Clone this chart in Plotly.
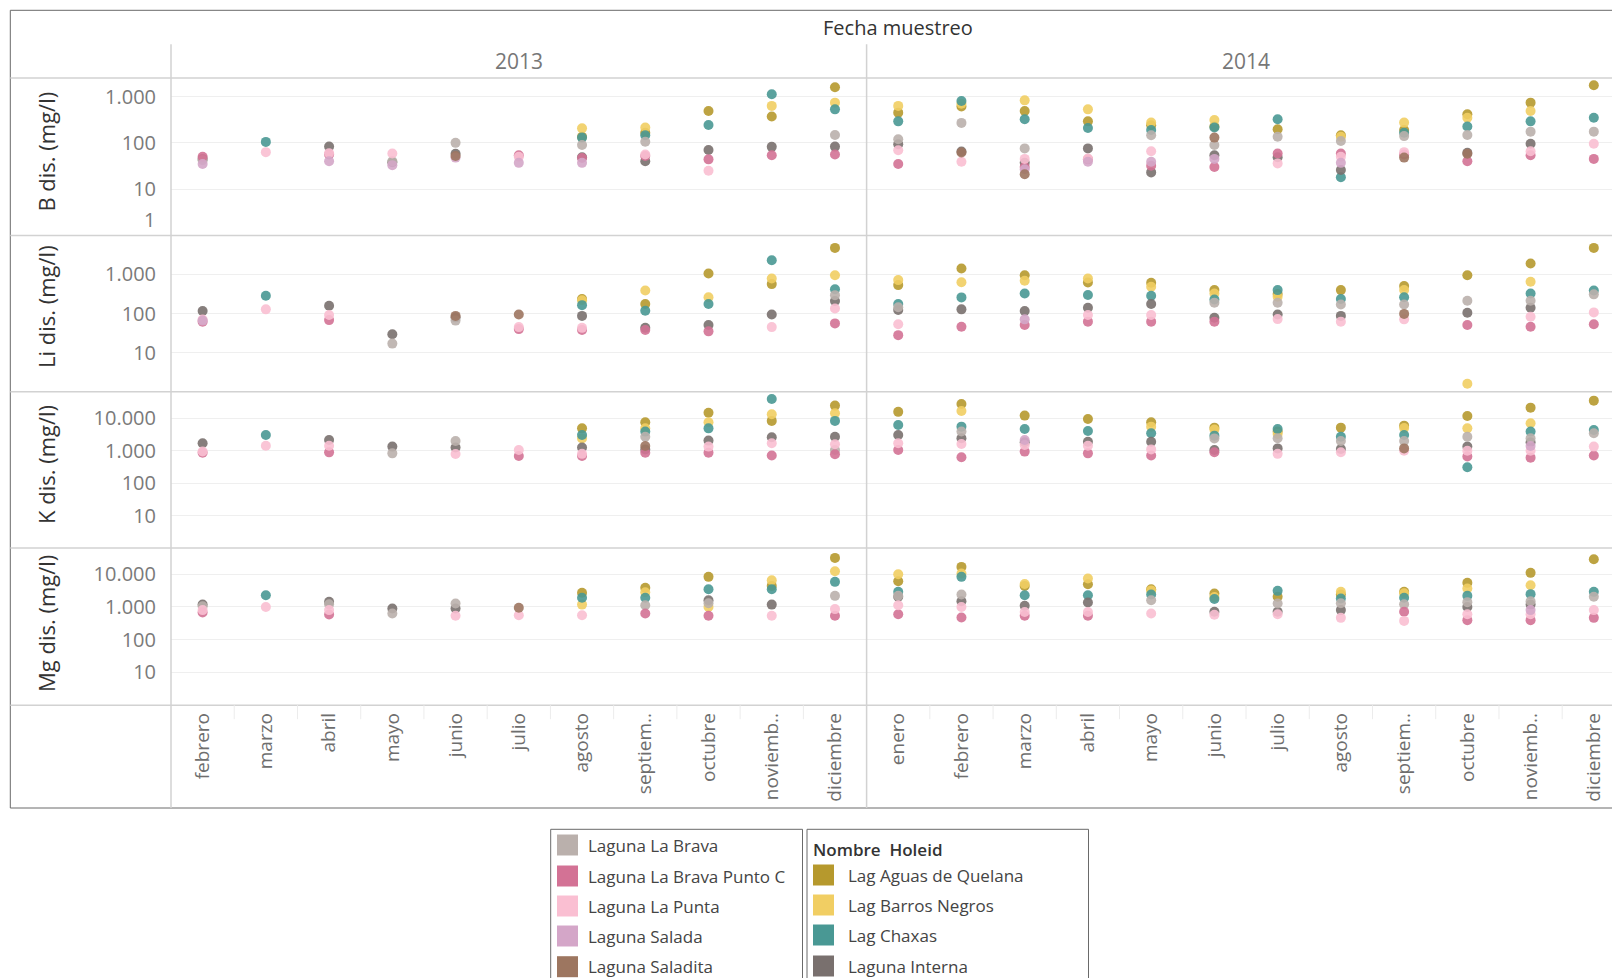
import plotly.graph_objects as go

# ---- categories -------------------------------------------------------------
MONTHS_2013 = ["febrero", "marzo", "abril", "mayo", "junio", "julio", "agosto",
               "septiem..", "octubre", "noviemb..", "diciembre"]
MONTHS_2014 = ["enero", "febrero", "marzo", "abril", "mayo", "junio", "julio",
               "agosto", "septiem..", "octubre", "noviemb..", "diciembre"]
YEARS = ["2013", "2014"]

SERIES = ["Lag Aguas de Quelana", "Lag Barros Negros", "Lag Chaxas", "Laguna Interna",
          "Laguna La Brava", "Laguna La Brava Punto C", "Laguna La Punta",
          "Laguna Salada", "Laguna Saladita"]
COLORS = ["#b6992d", "#f1ce63", "#499894", "#79706e", "#bab0ac",
          "#d37295", "#fabfd2", "#d4a6c8", "#9d7660"]

N = None
# ---- values (mg/l); first 11 = 2013 feb..dic, last 12 = 2014 ene..dic -------
# B dis.
B_AGUAS = [N, N, N, N, N, N, 136, 166, 490, 370, 1590, 450, 610, 490, 292, 240, 225, 197, 146, 190, 415, 740, 1760]
B_BARROS = [N, N, N, N, N, N, 206, 214, N, 630, 740, 630, 700, 830, 530, 274, 313, N, 136, 274, 350, 490, N]
B_CHAXAS = [N, 105, N, N, N, N, 130, 146, 244, 1120, 530, 292, 805, 323, 210, 190, 215, 323, 18, 166, 225, 292, 350]
B_INTERNA = [45, N, 83, 38, 58, N, 49, 40, 70, 82, 83, 93, 65, 37, 76, 23, 54, 49, 26, N, 61, 96, N]
B_BRAVA = [42, N, N, 40, 100, N, 90, 106, N, N, 148, 120, 270, 76, N, 146, 90, 136, 110, 140, 148, 175, 175]
B_PUNTOC = [50, N, 56, N, N, 54, 47, 52, 44, 54, 56, 35, N, 30, 44, 32, 30, 59, 59, 56, 40, 54, 45]
B_PUNTA = [N, 63, 60, 59, N, 50, N, 56, 25, N, N, 69, 39, 45, 46, 66, N, 36, 50, 63, N, 66, 96]
B_SALADA = [35, N, 40, 33, 48, 37, 37, N, N, N, N, N, N, 27, 39, 39, 45, N, 37, N, N, N, N]
B_SALADITA = [N, N, N, N, 52, N, N, N, N, N, N, N, 62, 21, N, N, 130, N, N, 48, 58, N, N]

# Li dis.
LI_AGUAS = [N, N, N, N, N, N, 235, 175, 1060, 567, 4790, 534, 1420, 960, 625, 612, 398, 315, 398, 504, 960, 1910, 4790]
LI_BARROS = [N, N, N, N, N, N, 220, 390, 260, 790, 960, 717, 630, 690, 790, 485, 327, 270, N, 400, 1.6, 650, N]
LI_CHAXAS = [N, 285, N, N, N, N, 164, 118, 175, 2320, 420, 175, 259, 327, 297, 285, 230, 398, 235, 260, N, 327, 390]
LI_INTERNA = [116, N, 158, 29.6, 80, N, 87, 43, 51, 95, 209, 123, 128, 116, 141, 175, 78, 95, 87, N, 105, 141, N]
LI_BRAVA = [N, N, N, 17, 66, N, N, N, N, N, 296, 145, N, N, N, N, 190, 189, 171, 171, 212, 212, 310]
LI_PUNTOC = [62, N, 68, N, N, 40, 38, 38, 35, N, 56, 28, 46, 51, 62, 62, 62, N, N, N, 51, 46, 53]
LI_PUNTA = [70, 128, 92, N, N, 45, 43, N, N, 45, 135, 53, N, N, 92, 92, N, 72, 62, 71, N, 83, 107]
LI_SALADA = [66, N, N, N, N, N, N, N, N, N, N, N, N, 71, N, N, N, N, N, N, N, N, N]
LI_SALADITA = [N, N, N, N, 87, 95, N, N, N, N, N, N, N, N, N, N, N, N, N, 98, N, N, N]

# K dis.
K_AGUAS = [N, N, N, N, N, N, 4900, 7530, 14900, 8300, 24600, 15800, 27700, 12100, 9540, 7530, 5150, 3880, 5150, 5940, 11800, 21300, 35000]
K_BARROS = [N, N, N, N, N, N, 2400, 4900, 7530, 13300, 14300, N, 16800, N, N, 5530, 4500, 3300, N, 5000, 4900, 7000, N]
K_CHAXAS = [N, 3060, N, N, N, N, 3070, 3880, 4900, 39500, 8300, 6230, 5530, 4690, 4070, 3440, 2920, 4690, 2700, 3070, 310, 3880, 4370]
K_INTERNA = [1700, N, 2150, 1340, 1250, N, 1260, 1100, 2050, 2590, 2700, 3070, 2420, 1820, 1900, 1900, 1050, 1180, 1130, N, 1340, 1820, N]
K_BRAVA = [N, N, N, 830, 2000, N, N, 2700, N, N, 1050, N, 3900, N, N, N, 2400, 2420, 2000, 2000, 2700, 2420, 3440]
K_PUNTOC = [870, N, 890, N, N, 690, 690, 870, 870, 710, 775, 1050, 630, 940, 830, 710, 900, N, N, N, 660, 612, 710]
K_PUNTA = [950, 1430, 1430, N, 790, 1050, 800, N, 1340, 1700, 1580, 1700, 1620, 1500, 1430, 1100, N, 800, 900, 1000, 1000, 1000, 1340]
K_SALADA = [N, N, N, N, N, N, N, N, N, N, N, N, N, 2150, N, N, N, N, N, N, N, 1400, N]
K_SALADITA = [N, N, N, N, N, N, N, 1400, N, N, N, N, N, N, N, N, N, N, N, 1180, N, N, N]

# Mg dis.
MG_AGUAS = [N, N, N, N, N, N, 2700, 3830, 8290, 4400, 31500, 6120, 16700, 4400, 4950, 3490, 2570, 2040, 2400, 2890, 5440, 11000, 28700]
MG_BARROS = [N, N, N, N, N, N, 1180, 2800, 1000, 6560, 12350, 10000, 10500, 5000, 7380, 3200, 2000, N, 2890, 2600, 3650, 4620, N]
MG_CHAXAS = [N, 2280, N, N, N, N, 1900, 1900, 3490, 3490, 5830, 2890, 8290, 2280, 2280, 2400, 1750, 3100, 1810, 1900, 2180, 2460, 2890]
MG_INTERNA = [1180, N, 1430, 900, 900, N, N, N, 1610, 1180, N, 2040, 1500, 1080, 1370, N, 710, 710, 800, N, 1000, 1180, N]
MG_BRAVA = [1050, N, 1200, 630, 1270, N, N, 1130, 1300, N, 2180, 2200, 2400, N, N, 1610, N, 1270, 1300, 1200, 1400, 1500, 2040]
MG_PUNTOC = [675, N, 590, N, N, N, N, 630, 540, N, 540, 600, 475, 540, 540, N, N, N, N, 710, 395, 395, 465]
MG_PUNTA = [800, 1000, 800, N, 540, 560, 560, N, N, 540, 860, 1130, 1000, 700, 700, 630, 580, 600, 465, 375, 600, 600, 800]
MG_SALADA = [N, N, N, N, N, N, N, N, N, N, N, N, N, N, N, N, N, N, N, N, N, 800, N]
MG_SALADITA = [N, N, N, N, N, 940, N, N, N, N, N, N, N, N, N, N, N, N, N, N, N, N, N]

ROW_TITLES = ["B dis. (mg/l)", "Li dis. (mg/l)", "K dis. (mg/l)", "Mg dis. (mg/l)"]
ROW_DATA = [
    [B_AGUAS, B_BARROS, B_CHAXAS, B_INTERNA, B_BRAVA, B_PUNTOC, B_PUNTA, B_SALADA, B_SALADITA],
    [LI_AGUAS, LI_BARROS, LI_CHAXAS, LI_INTERNA, LI_BRAVA, LI_PUNTOC, LI_PUNTA, LI_SALADA, LI_SALADITA],
    [K_AGUAS, K_BARROS, K_CHAXAS, K_INTERNA, K_BRAVA, K_PUNTOC, K_PUNTA, K_SALADA, K_SALADITA],
    [MG_AGUAS, MG_BARROS, MG_CHAXAS, MG_INTERNA, MG_BRAVA, MG_PUNTOC, MG_PUNTA, MG_SALADA, MG_SALADITA],
]
ROW_TICKS = [[10, 100, 1000], [10, 100, 1000], [10, 100, 1000, 10000], [10, 100, 1000, 10000]]
ROW_LOG_RANGE = [[0, 3.4], [0, 4.0], [0, 4.82], [0, 4.8]]

# ---- page geometry (pixels) -------------------------------------------------
W, H = 1612, 978
FONT = "Open Sans"
LEFT_EDGE = 10.3          # outer frame
PANE_LEFT = 171.0         # start of 2013 pane
YEAR_SPLIT = 866.6        # 2013 | 2014 divider
COL_W = (YEAR_SPLIT - PANE_LEFT) / len(MONTHS_2013)
ROW_EDGES = [78.1, 235.4, 391.7, 548.0, 705.2]
FRAME_TOP, FRAME_BOTTOM = 10.3, 808.0
HEADER_TOP = 44.2

def px(x):
    return x / W

def py(y):
    return 1 - y / H

def thousands(v):
    return f"{v:,}".replace(",", ".")

def label(text, x, y, size, color, xanchor="center", **extra):
    font = dict(family=FONT, size=size, color=color)
    font.update(extra.pop("font_extra", {}))
    return dict(text=text, x=px(x), y=py(y), xref="paper", yref="paper",
                xanchor=xanchor, yanchor="middle", showarrow=False, font=font, **extra)

fig = go.Figure()
layout = {}
months_by_year = [MONTHS_2013, MONTHS_2014]
offsets = [0, len(MONTHS_2013)]
x_domains = [[px(PANE_LEFT), px(YEAR_SPLIT)], [px(YEAR_SPLIT), 1.0]]
x_ranges = [[-0.5, len(MONTHS_2013) - 0.5],
            [-0.5, -0.5 + (W - YEAR_SPLIT) / COL_W]]

for r in range(4):
    for c in range(2):
        k = r * 2 + c + 1
        xa = "xaxis" if k == 1 else f"xaxis{k}"
        ya = "yaxis" if k == 1 else f"yaxis{k}"
        months = months_by_year[c]
        layout[xa] = dict(
            domain=x_domains[c], range=x_ranges[c], anchor=f"y{k if k > 1 else ''}",
            showgrid=False, zeroline=False, showline=False,
            tickvals=list(range(len(months))), ticktext=months,
            showticklabels=(r == 3), tickangle=-90, ticks="",
            ticklabelstandoff=3,
            tickfont=dict(family=FONT, size=19, color="#6e6e6e"),
        )
        layout[ya] = dict(
            domain=[py(ROW_EDGES[r + 1]), py(ROW_EDGES[r])], anchor=f"x{k if k > 1 else ''}",
            type="log", range=ROW_LOG_RANGE[r],
            showgrid=True, gridcolor="#efefef", gridwidth=1,
            zeroline=False, showline=False, ticks="",
            tickvals=ROW_TICKS[r], ticktext=[thousands(v) for v in ROW_TICKS[r]],
            showticklabels=(c == 0), ticklabelstandoff=14,
            tickfont=dict(family=FONT, size=20, color="#7a7a7a"),
        )
        for s, (name, color) in enumerate(zip(SERIES, COLORS)):
            vals = ROW_DATA[r][s][offsets[c]:offsets[c] + len(months)]
            xs = [i for i, v in enumerate(vals) if v is not None]
            ys = [v for v in vals if v is not None]
            if not xs:
                continue
            fig.add_trace(go.Scatter(
                x=xs, y=ys, mode="markers", name=name, showlegend=False,
                xaxis=f"x{k if k > 1 else ''}", yaxis=f"y{k if k > 1 else ''}",
                marker=dict(size=10, color=color, opacity=0.9, line=dict(width=0)),
                hovertemplate=f"{name}<br>%{{y}}<extra></extra>",
            ))

shapes = []
annotations = []
LINE = "#d2d2d2"

# outer frame
shapes.append(dict(type="rect", xref="paper", yref="paper",
                   x0=px(LEFT_EDGE), x1=px(W + 20), y0=py(FRAME_BOTTOM), y1=py(FRAME_TOP),
                   line=dict(color="#6a6a6a", width=1), layer="above"))
# horizontal pane separators
for y in ROW_EDGES:
    shapes.append(dict(type="line", xref="paper", yref="paper",
                       x0=px(LEFT_EDGE), x1=px(W + 20), y0=py(y), y1=py(y),
                       line=dict(color=LINE, width=1.5), layer="above"))
# vertical separators
for x in (PANE_LEFT, YEAR_SPLIT):
    shapes.append(dict(type="line", xref="paper", yref="paper",
                       x0=px(x), x1=px(x), y0=py(FRAME_BOTTOM), y1=py(HEADER_TOP),
                       line=dict(color=LINE, width=1.5), layer="above"))
# short dividers between month labels
for c in range(2):
    start = PANE_LEFT if c == 0 else YEAR_SPLIT
    for i in range(1, len(months_by_year[c]) + 1):
        x = start + i * COL_W
        if x >= W or abs(x - YEAR_SPLIT) < 1:
            continue
        shapes.append(dict(type="line", xref="paper", yref="paper",
                           x0=px(x), x1=px(x), y0=py(ROW_EDGES[-1]), y1=py(ROW_EDGES[-1] + 14),
                           line=dict(color="#ececec", width=1)))

# header texts
annotations.append(label("Fecha muestreo", (PANE_LEFT + W + 13) / 2, 28, 20, "#333333",
                         font_extra=dict(weight=500)))
year_centers = [(PANE_LEFT + YEAR_SPLIT) / 2, YEAR_SPLIT + 12 * COL_W / 2]
for yr, xc in zip(YEARS, year_centers):
    annotations.append(label(yr, xc, 61.5, 21, "#777777"))
# row titles
for title, yc in zip(ROW_TITLES, [151.6, 307, 465, 624]):
    annotations.append(label(title, 46, yc, 22, "#333333", textangle=-90,
                             font_extra=dict(weight=500)))
# lowest tick of the B axis sits just inside the pane
annotations.append(label("1", 157, 219, 20, "#7a7a7a", xanchor="right"))

# legend boxes
LEG_TOP = 829.3
shapes.append(dict(type="rect", xref="paper", yref="paper", x0=px(550.7), x1=px(802.5),
                   y0=py(H + 20), y1=py(LEG_TOP), line=dict(color="#6a6a6a", width=1)))
shapes.append(dict(type="rect", xref="paper", yref="paper", x0=px(807), x1=px(1088.5),
                   y0=py(H + 20), y1=py(LEG_TOP), line=dict(color="#6a6a6a", width=1)))
annotations.append(label("Nombre  Holeid", 811, 849, 17, "#333333", xanchor="left",
                         font_extra=dict(weight=600)))

legend_slots = []
for yc in [875, 905, 935, 966]:
    legend_slots.append((813, 846.4, yc))
for yc in [845, 876, 906, 936, 966.7]:
    legend_slots.append((557, 585.7, yc))
for (name, color), (sx, tx, yc) in zip(zip(SERIES, COLORS), legend_slots):
    shapes.append(dict(type="rect", xref="paper", yref="paper",
                       x0=px(sx), x1=px(sx + 21), y0=py(yc + 10.5), y1=py(yc - 10.5),
                       fillcolor=color, line=dict(width=0)))
    annotations.append(label(name, tx, yc, 17, "#444444", xanchor="left"))

fig.update_layout(
    width=W, height=H, margin=dict(l=0, r=0, t=0, b=0),
    paper_bgcolor="white", plot_bgcolor="white",
    shapes=shapes, annotations=annotations, showlegend=False,
    **layout,
)

fig.write_html("out.html")
